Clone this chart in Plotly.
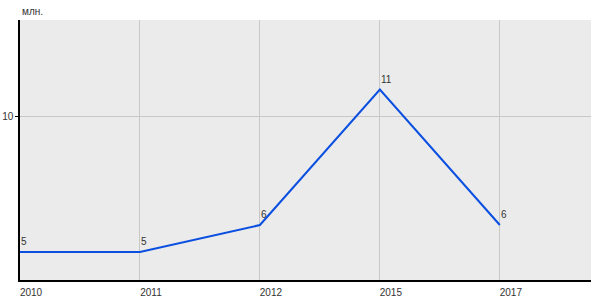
import plotly.graph_objects as go

years = ["2010", "2011", "2012", "2015", "2017"]
values = [5, 5, 6, 11, 6]
labels = ["5", "5", "6", "11", "6"]
unit_label = "млн."

fig = go.Figure()
fig.add_trace(go.Scatter(
    x=years, y=values, mode="lines",
    line=dict(color="#0a4fe0", width=2),
    hoverinfo="skip", showlegend=False,
))

for i, (v, t) in enumerate(zip(values, labels)):
    fig.add_annotation(
        x=i, y=v, text=t, showarrow=False,
        xanchor="left", yanchor="bottom", xshift=-1, yshift=3,
        font=dict(family="Liberation Sans, Arial", size=10, color="#333333"),
    )

fig.add_annotation(
    xref="paper", yref="paper", x=0, y=1, text=unit_label, showarrow=False,
    xanchor="left", yanchor="bottom", yshift=1,
    font=dict(family="Liberation Sans, Arial", size=10, color="#333333"),
)

fig.update_layout(
    width=600, height=300,
    margin=dict(l=20, r=9, t=20, b=20),
    paper_bgcolor="white", plot_bgcolor="#ebebeb",
    font=dict(family="Liberation Sans, Arial", size=10, color="#333333"),
    xaxis=dict(
        type="category", range=[0, 4.76], automargin=False,
        showgrid=True, gridcolor="#c8c8c8", gridwidth=1,
        showline=True, linecolor="black", linewidth=2,
        ticks="", ticklabelshift=11, ticklabelstandoff=2,
        tickfont=dict(size=10, color="#333333"),
        zeroline=False, fixedrange=True,
    ),
    yaxis=dict(
        range=[3.97, 13.57], tickvals=[10], ticktext=["10"], automargin=False,
        showgrid=True, gridcolor="#c8c8c8", gridwidth=1,
        showline=True, linecolor="black", linewidth=1.5,
        ticks="outside", ticklen=3, tickcolor="black",
        tickfont=dict(size=10, color="#333333"),
        zeroline=False, fixedrange=True,
    ),
)

fig.write_html("out.html")
